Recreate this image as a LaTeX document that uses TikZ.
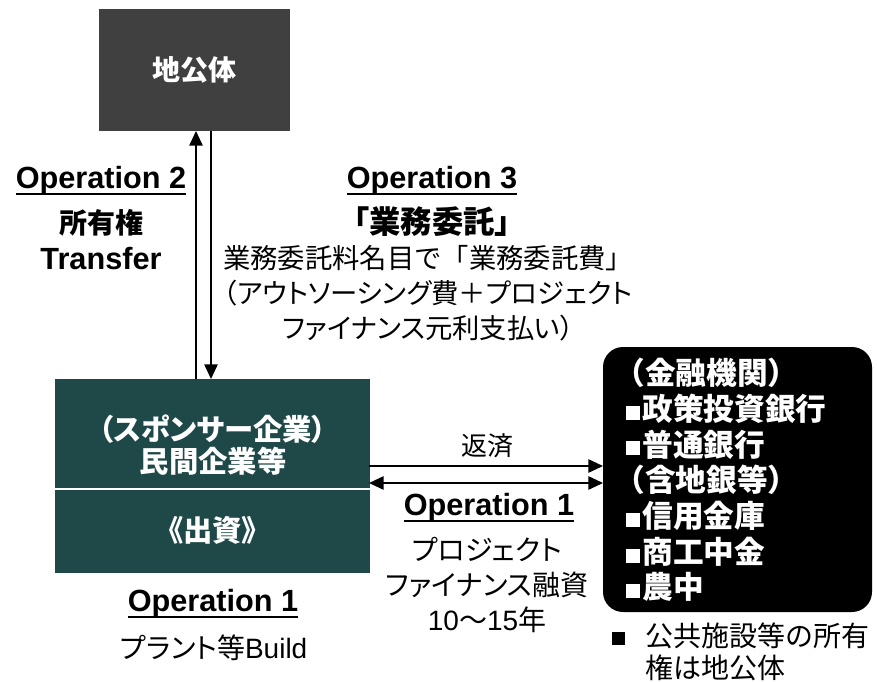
\documentclass[tikz,border=0pt]{standalone}
\usepackage{fontspec}
\setmainfont{Liberation Sans}
\newfontfamily\jp[RawFeature={+palt}]{Noto Sans CJK JP}
\newfontfamily\jpf{Noto Sans CJK JP}
\usetikzlibrary{arrows.meta,calc}
\definecolor{govgray}{HTML}{404040}
\definecolor{compteal}{HTML}{1F4848}
\newcommand{\sqb}{\rule[0.02em]{0.46em}{0.46em}\hspace{0.08em}}
\begin{document}
\begin{tikzpicture}[x=0.75pt,y=-0.75pt,
  every node/.style={inner sep=0pt,outer sep=0pt},
  oplabel/.style={font=\bfseries\fontsize{23}{27}\selectfont},
  jpbold/.style={font=\jp\bfseries\fontsize{21}{24}\selectfont},
  jpreg/.style={font=\jp\fontsize{20.5}{26.25}\selectfont, align=center},
  ulline/.style={line width=1.5pt},
  conn/.style={line width=1.3pt,-{Triangle[length=11pt,width=10pt]}},
  conn2/.style={line width=1.3pt,{Triangle[length=11pt,width=10pt]}-{Triangle[length=11pt,width=10pt]}}]
\useasboundingbox (0,0) rectangle (877,681);

% boxes
\node[fill=govgray,minimum width=143.25pt,minimum height=91.5pt] (gov) at (194.5,70) {};
\node[jpbold,text=white] (govt) at (194.5,70) {地公体};

\node[fill=compteal,minimum width=236.25pt,minimum height=145.5pt] (comp) at (212.5,476) {};
\node[text=white,align=center,font=\jp\bfseries\fontsize{22}{24.5}\selectfont] (compt) at (213,445) {（スポンサー企業）\\民間企業等};
\draw[white,line width=1.6pt] (comp.west |- 0,489) coordinate (dl) -- (comp.east |- 0,489) coordinate (dr);
\node[text=white,font=\jp\bfseries\fontsize{22}{24.5}\selectfont] (inv) at (212.5,530) {《出資》};

\node[fill=black,rounded corners=15pt,minimum width=201.75pt,minimum height=198.75pt] (bank) at (737.5,479.5) {};
\node[anchor=west,text=white,align=left,font=\jpf\bfseries\fontsize{23}{26.8}\selectfont] (bankt) at (626,480) {\hspace{-0.38em}（金融機関）\\\sqb 政策投資銀行\\\sqb 普通銀行\\\hspace{-0.38em}（含地銀等）\\\sqb 信用金庫\\\sqb 商工中金\\\sqb 農中};

% vertical connectors
\coordinate (upS) at (196,379);
\coordinate (upE) at (196,131);
\coordinate (dnS) at (211,131);
\coordinate (dnE) at (211,379);
\draw[conn] (upS) -- (upE);
\draw[conn] (dnS) -- (dnE);

% horizontal connectors
\coordinate (h1s) at (369,466);
\coordinate (h1e) at (603,466);
\coordinate (h2s) at (369,483);
\coordinate (h2e) at (603,483);
\draw[conn] (h1s) -- (h1e);
\draw[conn2] (h2s) -- (h2e);

% Operation 2
\node[oplabel] (op2) at (101,181) {Operation 2};
\draw[ulline] ($(op2.base west)+(0,5)$) -- ($(op2.base east)+(0,5)$);
\node[jpbold,font=\jp\bfseries\fontsize{21}{24}\selectfont] (own) at (101,223) {所有権};
\node[oplabel] (trans) at (101,259) {Transfer};

% Operation 3
\node[oplabel] (op3) at (432,181) {Operation 3};
\draw[ulline] ($(op3.base west)+(0,5)$) -- ($(op3.base east)+(0,5)$);
\node[font=\jp\bfseries\fontsize{23.5}{26}\selectfont] (itaku) at (432,222) {「業務委託」};
\node[jpreg] (itakut) at (428,293) {{\jpf 業務委託料名目で「業務委託費」}\\（アウトソーシング費＋プロジェクト\\ファイナンス元利支払い）};

% middle
\node[font=\jp\fontsize{19.5}{24}\selectfont] (hensai) at (487,446) {返済};
\node[oplabel] (op1m) at (489,508) {Operation 1};
\draw[ulline] ($(op1m.base west)+(0,5)$) -- ($(op1m.base east)+(0,5)$);
\node[jpreg,font=\jp\fontsize{21}{26.25}\selectfont] (pf) at (487,585) {プロジェクト\\ファイナンス融資\\{\fontspec{Liberation Sans}10}〜{\fontspec{Liberation Sans}15}年};

% bottom left
\node[oplabel] (op1b) at (213,604) {Operation 1};
\draw[ulline] ($(op1b.base west)+(0,5)$) -- ($(op1b.base east)+(0,5)$);
\node[font=\jp\fontsize{21}{24}\selectfont] (build) at (214,648) {プラント等{\fontspec{Liberation Sans}Build}};

% note
\node[anchor=west,align=left,font=\jpf\fontsize{21}{24}\selectfont] (note) at (612,652) {\rule[0.05em]{0.48em}{0.48em}\hspace{0.7em}公共施設等の所有\\\hspace{1.18em}権は地公体};
\end{tikzpicture}
\end{document}
